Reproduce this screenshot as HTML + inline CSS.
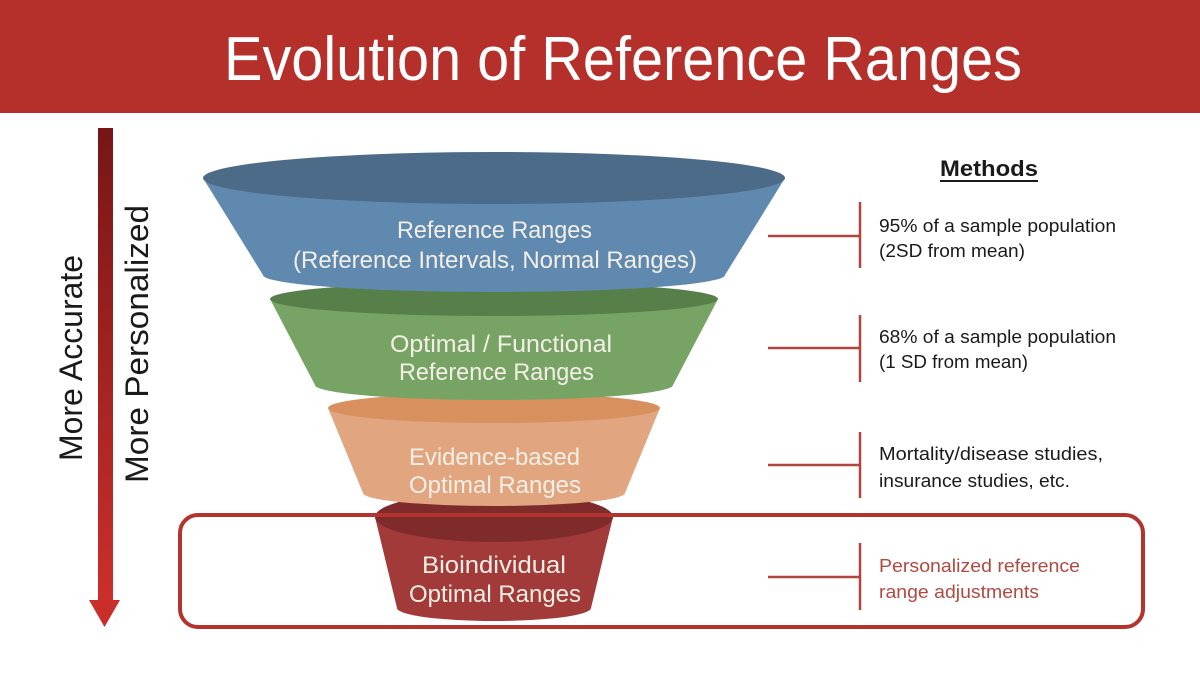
<!DOCTYPE html>
<html>
<head>
<meta charset="utf-8">
<style>
  html,body{margin:0;padding:0;background:#fff;}
  svg{display:block;}
  text{font-family:"Liberation Sans", sans-serif;}
</style>
</head>
<body>
<svg width="1200" height="675" viewBox="0 0 1200 675" xmlns="http://www.w3.org/2000/svg">
  <defs>
    <linearGradient id="ag" x1="0" y1="0" x2="0" y2="1">
      <stop offset="0" stop-color="#761616"/>
      <stop offset="1" stop-color="#cc2f2a"/>
    </linearGradient>
  </defs>

  <rect x="0" y="0" width="1200" height="675" fill="#ffffff"/>

  <!-- Header -->
  <rect x="0" y="0" width="1200" height="113" fill="#b52f2b"/>
  <text x="224" y="80" font-size="62" fill="#ffffff" textLength="798" lengthAdjust="spacingAndGlyphs">Evolution of Reference Ranges</text>

  <!-- Left arrow -->
  <rect x="98" y="128" width="15" height="474" fill="url(#ag)"/>
  <polygon points="89,600 120,600 104.5,627" fill="#c92e29"/>

  <text transform="translate(82,461) rotate(-90)" x="0" y="0" font-size="32" fill="#1a1a1a" textLength="206" lengthAdjust="spacingAndGlyphs">More Accurate</text>
  <text transform="translate(148,483) rotate(-90)" x="0" y="0" font-size="32" fill="#1a1a1a" textLength="278" lengthAdjust="spacingAndGlyphs">More Personalized</text>

  <!-- Funnel: red (bottom tier) -->
  <path d="M375,517 L397,608 A97,13 0 0 0 591,608 L613,517 Z" fill="#a23a39"/>
  <ellipse cx="494" cy="517" rx="119" ry="25" fill="#7f2b2c"/>

  <!-- Funnel: orange -->
  <path d="M328,408 L363,493 A131,13 0 0 0 625,493 L660,408 Z" fill="#e1a57f"/>
  <ellipse cx="494" cy="408" rx="166" ry="15" fill="#d8905f"/>

  <!-- Funnel: green -->
  <path d="M270,299 L315,385 A179,15 0 0 0 673,385 L718,299 Z" fill="#77a465"/>
  <ellipse cx="494" cy="299" rx="224" ry="17" fill="#577f4a"/>

  <!-- Funnel: blue -->
  <path d="M203,178 L263,275 A231,17 0 0 0 725,275 L785,178 Z" fill="#6089b0"/>
  <ellipse cx="494" cy="178" rx="291" ry="26" fill="#4b6b88"/>

  <!-- Funnel labels -->
  <g fill="#f4efe6" font-size="24">
    <text x="397" y="238" textLength="195" lengthAdjust="spacingAndGlyphs">Reference Ranges</text>
    <text x="293" y="268" textLength="404" lengthAdjust="spacingAndGlyphs">(Reference Intervals, Normal Ranges)</text>
    <text x="390" y="352" textLength="222" lengthAdjust="spacingAndGlyphs">Optimal / Functional</text>
    <text x="399" y="380" textLength="195" lengthAdjust="spacingAndGlyphs">Reference Ranges</text>
    <text x="409" y="465" textLength="171" lengthAdjust="spacingAndGlyphs">Evidence-based</text>
    <text x="409" y="493" textLength="172" lengthAdjust="spacingAndGlyphs">Optimal Ranges</text>
    <text x="422" y="573" textLength="144" lengthAdjust="spacingAndGlyphs">Bioindividual</text>
    <text x="409" y="602" textLength="172" lengthAdjust="spacingAndGlyphs">Optimal Ranges</text>
  </g>

  <!-- Highlight box -->
  <rect x="180" y="515" width="963" height="112" rx="18" ry="18" fill="none" stroke="#b3342f" stroke-width="4"/>

  <!-- Connectors -->
  <g stroke="#b0453f" stroke-width="2.5" fill="none">
    <line x1="768" y1="236" x2="860" y2="236"/>
    <line x1="860" y1="202" x2="860" y2="268"/>
    <line x1="768" y1="348" x2="860" y2="348"/>
    <line x1="860" y1="315" x2="860" y2="382"/>
    <line x1="768" y1="465" x2="860" y2="465"/>
    <line x1="860" y1="432" x2="860" y2="498"/>
    <line x1="768" y1="577" x2="860" y2="577"/>
    <line x1="860" y1="543" x2="860" y2="610"/>
  </g>

  <!-- Methods heading -->
  <text x="940" y="176" font-size="22" font-weight="bold" fill="#1a1a1a" textLength="98" lengthAdjust="spacingAndGlyphs">Methods</text>
  <rect x="940" y="180" width="98" height="2" fill="#1a1a1a"/>

  <!-- Method texts -->
  <g font-size="18" fill="#1a1a1a">
    <text x="879" y="232" textLength="237" lengthAdjust="spacingAndGlyphs">95% of a sample population</text>
    <text x="879" y="257" textLength="146" lengthAdjust="spacingAndGlyphs">(2SD from mean)</text>
    <text x="879" y="343" textLength="237" lengthAdjust="spacingAndGlyphs">68% of a sample population</text>
    <text x="879" y="368" textLength="149" lengthAdjust="spacingAndGlyphs">(1 SD from mean)</text>
    <text x="879" y="460" textLength="224" lengthAdjust="spacingAndGlyphs">Mortality/disease studies,</text>
    <text x="879" y="487" textLength="191" lengthAdjust="spacingAndGlyphs">insurance studies, etc.</text>
  </g>
  <g font-size="18" fill="#b04a40">
    <text x="879" y="572" textLength="201" lengthAdjust="spacingAndGlyphs">Personalized reference</text>
    <text x="879" y="598" textLength="160" lengthAdjust="spacingAndGlyphs">range adjustments</text>
  </g>
</svg>
</body>
</html>
